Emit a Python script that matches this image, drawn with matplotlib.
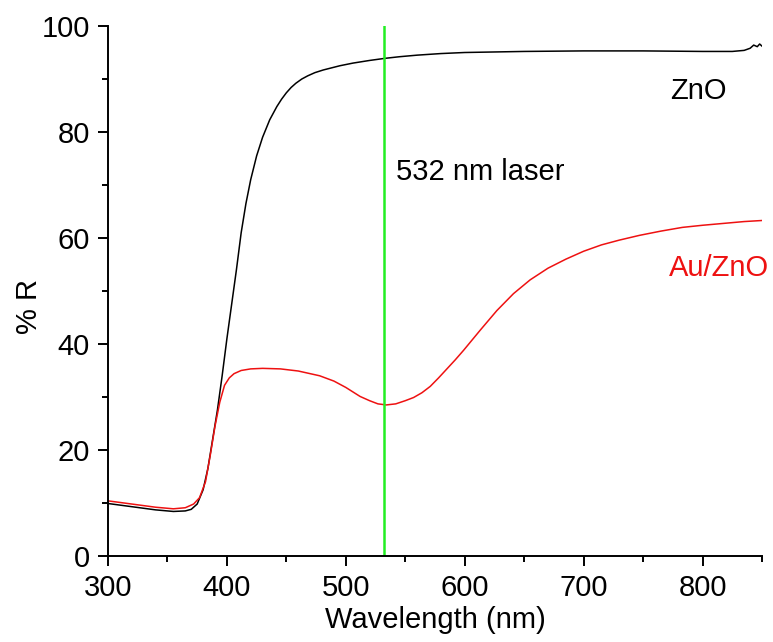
import numpy as np
import matplotlib
matplotlib.use('Agg')
import matplotlib.pyplot as plt
from matplotlib.ticker import MultipleLocator

plt.rcParams['font.family'] = ['Liberation Sans', 'DejaVu Sans']

# ZnO reflectance (black)
zno_wl = [300, 320, 340, 355, 365, 370, 375, 380, 384, 388, 392, 396, 400, 404,
          408, 412, 416, 420, 425, 430, 436, 442, 446, 450, 454, 458, 463, 468, 474,
          481, 495, 506, 520, 533, 545, 560, 580, 600, 650, 700, 750, 800, 825,
          835, 840, 843, 846, 848, 850]
zno_r = [9.9, 9.3, 8.7, 8.4, 8.5, 8.8, 9.8, 12.5, 16.5, 22.0, 27.5, 34.0, 41.0, 47.5,
         54.0, 61.0, 66.5, 71.0, 75.5, 79.0, 82.3, 84.8, 86.2, 87.4, 88.4, 89.2, 90.0, 90.6, 91.2,
         91.7, 92.5, 93.0, 93.5, 93.9, 94.2, 94.5, 94.8, 95.0, 95.2, 95.3, 95.3, 95.2, 95.2,
         95.4, 95.8, 96.4, 96.1, 96.6, 96.2]

# Au/ZnO reflectance (red)
au_wl = [300, 320, 340, 355, 365, 372, 377, 382, 386, 390, 394, 398, 402, 406, 412,
         420, 430, 445, 460, 478, 490, 500, 512, 520, 527, 534, 542, 550, 557, 564,
         571, 578, 585, 592, 599, 613, 627, 641, 655, 670, 685, 700, 715, 730, 747, 765, 783,
         800, 820, 835, 850]
au_r = [10.4, 9.8, 9.2, 8.9, 9.1, 9.8, 11.0, 14.0, 19.0, 24.5, 29.0, 32.2, 33.6, 34.4, 35.0,
        35.3, 35.4, 35.3, 34.9, 34.0, 33.0, 31.8, 30.1, 29.3, 28.7, 28.5, 28.7, 29.3, 29.9, 30.8,
        32.0, 33.6, 35.3, 37.0, 38.8, 42.6, 46.3, 49.5, 52.1, 54.3, 56.0, 57.5, 58.7, 59.6, 60.5, 61.3, 62.0,
        62.4, 62.8, 63.1, 63.3]

laser_wl = 532

fig = plt.figure(figsize=(7.73, 6.42), dpi=100)
ax = fig.add_axes([0.1397, 0.134, 0.8461, 0.8255])

ax.plot(zno_wl, zno_r, color='black', lw=1.1)
ax.plot(au_wl, au_r, color='#ee1111', lw=1.1)
ax.axvline(laser_wl, color='#22ee22', lw=1.8)

ax.set_xlim(300, 850)
ax.set_ylim(0, 100)
ax.xaxis.set_major_locator(MultipleLocator(100))
ax.xaxis.set_minor_locator(MultipleLocator(50))
ax.yaxis.set_major_locator(MultipleLocator(20))
ax.yaxis.set_minor_locator(MultipleLocator(10))

for s in ['top', 'right']:
    ax.spines[s].set_visible(False)
for s in ['left', 'bottom']:
    ax.spines[s].set_linewidth(1.4)

ax.tick_params(which='major', direction='out', length=7, width=1.4, labelsize=21, pad=6)
ax.tick_params(which='minor', direction='out', length=4, width=1.4)

ax.set_xlabel('Wavelength (nm)', fontsize=21)
ax.set_ylabel('% R', fontsize=21)
ax.xaxis.set_label_coords(0.5, -0.095)
ax.yaxis.set_label_coords(-0.1, 0.47)

ax.text(542, 72.5, '532 nm laser', fontsize=21, va='center', ha='left')
ax.text(773, 87.8, 'ZnO', fontsize=21, va='center', ha='left')
ax.text(772, 54.3, 'Au/ZnO', fontsize=21, va='center', ha='left', color='#ee1111')

fig.savefig('out.png', dpi=100)
